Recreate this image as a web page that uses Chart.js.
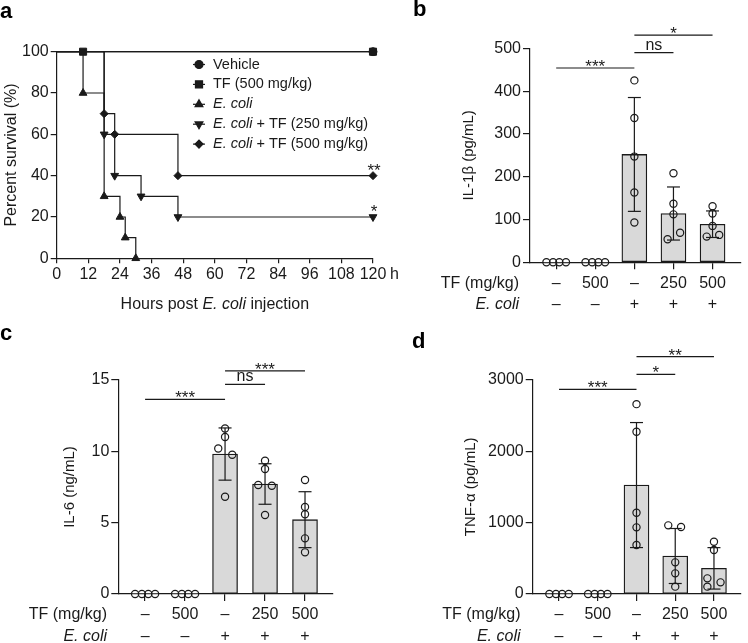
<!DOCTYPE html>
<html>
<head>
<meta charset="utf-8">
<script src="https://cdn.jsdelivr.net/npm/chart.js@4.4.1/dist/chart.umd.min.js"></script>
<style>
  body { margin: 0; background: #fff; }
  #fig { position: relative; width: 748px; height: 643px; overflow: hidden; }
  .panel { position: absolute; }
  .letter { position: absolute; font: bold 22px "Liberation Sans", Arial, sans-serif; line-height: 22px; color: #000; }
</style>
</head>
<body>
<div id="fig">
  <div class="panel" style="left:374px;top:0"><canvas id="chartB" width="374" height="320"></canvas></div>
  <div class="panel" style="left:0;top:320px"><canvas id="chartC" width="374" height="323"></canvas></div>
  <div class="panel" style="left:374px;top:320px"><canvas id="chartD" width="374" height="323"></canvas></div>
  <div class="panel" style="left:0;top:0"><canvas id="chartA" width="410" height="320"></canvas></div>
  <div class="letter" style="left:0;top:0">a</div>
  <div class="letter" style="left:413px;top:-2px">b</div>
  <div class="letter" style="left:0;top:322px">c</div>
  <div class="letter" style="left:412px;top:330px">d</div>
</div>
<script>
// ---- panel a: survival ----
const hourTicks = [0, 12, 24, 36, 48, 60, 72, 84, 96, 108, 120];
const survVehicle = [[0, 100], [120, 100]];
const survTF = [[0, 100], [10, 100], [120, 100]];
const survEcoli = [[0, 100], [10, 80], [18, 30], [24, 20], [26, 10], [30, 0]];
const survTF250 = [[0, 100], [18, 60], [22, 40], [32, 30], [46, 20], [120, 20]];
const survTF500 = [[0, 100], [18, 70], [22, 60], [46, 40], [120, 40]];
const survStars = [['**', 40], ['*', 20]];
const legendLabels = [
  [['Vehicle', false]],
  [['TF (500 mg/kg)', false]],
  [['E. coli', true]],
  [['E. coli', true], [' + TF (250 mg/kg)', false]],
  [['E. coli', true], [' + TF (500 mg/kg)', false]]
];

// ---- panels b-d: cytokines ----
const groups = [0, 1, 2, 3, 4];
const tfDose = ['–', '500', '–', '250', '500'];
const ecoli = ['–', '–', '+', '+', '+'];
const zeroJitter = [-0.25, -0.08, 0.08, 0.25];

const il1bMean = [0, 0, 252, 114, 89];
const il1bSD = [0, 0, 133, 62, 31];
const il1bPoints = [[0, 0, 0, 0], [0, 0, 0, 0], [425, 337, 247, 163, 93], [208, 137, 112, 69, 54], [131, 114, 85, 60, 64]];
const il1bJitter = [zeroJitter, zeroJitter, [0, 0, 0, 0, 0], [0, 0, 0, 0.17, -0.15], [0, 0, 0, -0.15, 0.17]];
const il1bSig = [[0, 2, 454, '***'], [2, 3, 490, 'ns'], [2, 4, 531, '*']];

const il6Mean = [0, 0, 9.81, 7.71, 5.21];
const il6SD = [0, 0, 1.83, 1.42, 1.96];
const il6Points = [[0, 0, 0, 0], [0, 0, 0, 0], [11.6, 11.0, 10.2, 9.76, 6.82], [9.34, 8.76, 7.64, 7.59, 5.54], [7.99, 6.1, 5.59, 3.9, 2.92]];
const il6Jitter = [zeroJitter, zeroJitter, [0, 0, -0.17, 0.18, 0], [0, 0, -0.17, 0.17, 0], [0, 0, 0, 0, 0]];
const il6Sig = [[0, 2, 13.64, '***'], [2, 3, 14.7, 'ns'], [2, 4, 15.64, '***']];

const tnfMean = [0, 0, 1525, 532, 359];
const tnfSD = [0, 0, 875, 385, 290];
const tnfPoints = [[0, 0, 0, 0], [0, 0, 0, 0], [2658, 2271, 1138, 933, 686], [961, 937, 443, 289, 103], [732, 616, 219, 163, 103]];
const tnfJitter = [zeroJitter, zeroJitter, [0, 0, 0, 0, 0], [-0.18, 0.15, 0, 0, 0], [0, 0, -0.17, 0.17, -0.17]];
const tnfSig = [[0, 2, 2864, '***'], [2, 3, 3074, '*'], [2, 4, 3323, '**']];

const family = '"Liberation Sans", Arial, sans-serif';
const ink = '#1a1a1a';

function font(size, italic) {
  return (italic ? 'italic ' : '') + size + 'px ' + family;
}

// draws a run of text pieces, some of them italic
function drawRich(ctx, parts, x, y, align, size) {
  let total = 0;
  parts.forEach(p => { ctx.font = font(size, p[1]); total += ctx.measureText(p[0]).width; });
  let cx = align === 'center' ? x - total / 2 : (align === 'right' ? x - total : x);
  ctx.textAlign = 'left';
  parts.forEach(p => {
    ctx.font = font(size, p[1]);
    ctx.fillText(p[0], cx, y);
    cx += ctx.measureText(p[0]).width;
  });
}

// prism-like axis: outside ticks, no grid, no bar offset
function axisStyle(tickLen) {
  return {
    offset: false,
    grid: { display: true, drawOnChartArea: false, drawTicks: true, tickLength: tickLen, color: ink, lineWidth: 1.2, offset: false },
    border: { display: true, color: ink, width: 1.2 }
  };
}

const markerSizes = [4, 5, 4.5, 4.5, 4];
const toXY = arr => arr.map(p => ({ x: p[0], y: p[1] }));
function survSet(label, data, style, size, rot) {
  return {
    label: label, data: toXY(data), stepped: true, borderColor: ink, borderWidth: 1.2,
    pointStyle: style, pointRotation: rot || 0,
    pointRadius: c => c.dataIndex === 0 ? 0 : size,
    pointBackgroundColor: ink, pointBorderColor: ink, pointBorderWidth: 1, clip: false
  };
}

const areaA = { left: 56.7, top: 51.7, right: 373, bottom: 258.3, w: 410, h: 320 };
new Chart(document.getElementById('chartA'), {
  type: 'line',
  data: {
    datasets: [
      survSet('Vehicle', survVehicle, 'circle', markerSizes[0]),
      survSet('TF', survTF, 'rect', markerSizes[1]),
      survSet('E. coli', survEcoli, 'triangle', markerSizes[2]),
      survSet('E. coli + TF 250', survTF250, 'triangle', markerSizes[3], 180),
      survSet('E. coli + TF 500', survTF500, 'rectRot', markerSizes[4])
    ]
  },
  options: {
    responsive: false, animation: false, events: [],
    layout: { padding: { left: 0, top: areaA.top, right: areaA.w - areaA.right, bottom: 0 } },
    plugins: { legend: { display: false }, tooltip: { enabled: false } },
    scales: {
      x: Object.assign({
        type: 'linear', min: 0, max: 120,
        afterBuildTicks: ax => { ax.ticks = hourTicks.map(v => ({ value: v })); },
        afterFit: ax => { ax.height = areaA.h - areaA.bottom; },
        ticks: { color: ink, font: { size: 16, family: family }, padding: 2, maxRotation: 0, autoSkip: false }
      }, axisStyle(5)),
      y: Object.assign({
        min: 0, max: 100,
        afterFit: ax => { ax.width = areaA.left; },
        ticks: { stepSize: 20, color: ink, font: { size: 16, family: family }, padding: 2 }
      }, axisStyle(6))
    }
  },
  plugins: [{
    id: 'panelA',
    afterDraw(chart) {
      const ctx = chart.ctx, ca = chart.chartArea;
      const xs = chart.scales.x, ys = chart.scales.y;
      ctx.save();
      ctx.fillStyle = ink;
      ctx.textBaseline = 'middle';
      drawRich(ctx, [['Hours post ', false], ['E. coli', true], [' injection', false]], (ca.left + ca.right) / 2, 305, 'center', 16);
      ctx.font = font(16);
      ctx.textAlign = 'left';
      ctx.fillText('h', xs.getPixelForValue(120) + 17, 275);
      ctx.save();
      ctx.translate(12, (ca.top + ca.bottom) / 2);
      ctx.rotate(-Math.PI / 2);
      ctx.textAlign = 'center';
      ctx.fillText('Percent survival (%)', 0, 0);
      ctx.restore();
      // significance marks at the end of the curves
      ctx.textBaseline = 'alphabetic';
      ctx.textAlign = 'center';
      ctx.font = font(17);
      survStars.forEach(s => ctx.fillText(s[0], xs.getPixelForValue(120) + 1, ys.getPixelForValue(s[1])));
      // legend
      chart.data.datasets.forEach((ds, i) => {
        const y = 64.5 + i * 19.9;
        ctx.strokeStyle = ink; ctx.lineWidth = 1.2;
        ctx.beginPath(); ctx.moveTo(193, y); ctx.lineTo(205, y); ctx.stroke();
        ctx.fillStyle = ink;
        Chart.helpers.drawPoint(ctx, { pointStyle: ds.pointStyle, rotation: ds.pointRotation, radius: markerSizes[i], borderWidth: 1 }, 199, y);
        ctx.textBaseline = 'middle';
        drawRich(ctx, legendLabels[i], 213, y, 'left', 14.5);
      });
      ctx.restore();
    }
  }]
});

function barPanel(id, o) {
  const A = o.area;
  const bars = groups.map((g, i) => ({ x: g, y: o.means[i] }));
  const errs = [];
  groups.forEach((g, i) => {
    if (o.sds[i] > 0) errs.push({ x: g, y: o.means[i] - o.sds[i] }, { x: g, y: o.means[i] + o.sds[i] }, { x: g + 0.5, y: null });
  });
  const dots = [];
  o.points.forEach((vals, i) => vals.forEach((v, j) => dots.push({ x: groups[i] + o.jitter[i][j], y: v })));

  return new Chart(document.getElementById(id), {
    data: {
      datasets: [
        { type: 'bar', data: bars, order: 3, backgroundColor: '#d9d9d9', borderColor: ink,
          borderWidth: c => (c.raw && c.raw.y > 0 ? 1.3 : 0), borderSkipped: false, barThickness: 25 },
        { type: 'line', data: errs, order: 2, borderColor: ink, borderWidth: 1.2, spanGaps: false,
          pointStyle: 'line', pointRadius: 6.5, pointBorderWidth: 1.2, pointBorderColor: ink, clip: false },
        { type: 'scatter', data: dots, order: 1, pointStyle: 'circle', pointRadius: 3.6, pointBorderWidth: 1.2,
          pointBorderColor: ink, pointBackgroundColor: 'rgba(0,0,0,0)', clip: false }
      ]
    },
    options: {
      responsive: false, animation: false, events: [],
      layout: { padding: { left: 0, top: A.top, right: A.w - A.right, bottom: 0 } },
      plugins: { legend: { display: false }, tooltip: { enabled: false } },
      scales: {
        x: Object.assign({
          type: 'linear', min: o.xMin, max: o.xMax,
          afterBuildTicks: ax => { ax.ticks = groups.map(v => ({ value: v })); },
          afterFit: ax => { ax.height = A.h - A.bottom; },
          ticks: { callback: v => [tfDose[Math.round(v)], ecoli[Math.round(v)]], color: ink,
                   font: { size: 16, family: family, lineHeight: 1.36 }, padding: 3, maxRotation: 0, autoSkip: false }
        }, axisStyle(7)),
        y: Object.assign({
          min: 0, max: o.yMax,
          afterFit: ax => { ax.width = A.left; },
          ticks: { stepSize: o.yStep, callback: v => String(v), color: ink, font: { size: 16, family: family }, padding: 2 }
        }, axisStyle(7))
      }
    },
    plugins: [{
      id: 'barText',
      afterDraw(chart) {
        const ctx = chart.ctx, ca = chart.chartArea;
        const xs = chart.scales.x, ys = chart.scales.y;
        ctx.save();
        ctx.fillStyle = ink;
        ctx.textBaseline = 'middle';
        // y title
        ctx.save();
        ctx.translate(o.titleX, (ca.top + ca.bottom) / 2);
        ctx.rotate(-Math.PI / 2);
        ctx.textAlign = 'center';
        ctx.font = font(15);
        ctx.fillText(o.yTitle, 0, 0);
        ctx.restore();
        // row headers
        drawRich(ctx, [['TF (mg/kg)', false]], o.rowX, ca.bottom + 21, 'right', 16);
        drawRich(ctx, [['E. coli', true]], o.rowX, ca.bottom + 42.7, 'right', 16);
        // significance brackets
        ctx.strokeStyle = ink; ctx.lineWidth = 1.2;
        ctx.textAlign = 'center';
        ctx.textBaseline = 'alphabetic';
        o.sig.forEach(s => {
          const x1 = xs.getPixelForValue(s[0]), x2 = xs.getPixelForValue(s[1]);
          const y = ys.getPixelForValue(s[2]);
          ctx.beginPath(); ctx.moveTo(x1, y); ctx.lineTo(x2, y); ctx.stroke();
          if (s[3] === 'ns') { ctx.font = font(16); ctx.fillText(s[3], (x1 + x2) / 2, y - 3); }
          else { ctx.font = font(17); ctx.fillText(s[3], (x1 + x2) / 2, y + 4); }
        });
        ctx.restore();
      }
    }]
  });
}

barPanel('chartB', {
  means: il1bMean, sds: il1bSD, points: il1bPoints, jitter: il1bJitter, sig: il1bSig,
  yMax: 500, yStep: 100, yTitle: 'IL-1β (pg/mL)', titleX: 95, rowX: 145, xMin: -0.67, xMax: 4.71,
  area: { left: 156, top: 48.3, right: 371, bottom: 262.3, w: 374, h: 320 }
});
barPanel('chartC', {
  means: il6Mean, sds: il6SD, points: il6Points, jitter: il6Jitter, sig: il6Sig,
  yMax: 15, yStep: 5, yTitle: 'IL-6 (ng/mL)', titleX: 70, rowX: 107, xMin: -0.67, xMax: 4.7,
  area: { left: 118.3, top: 60, right: 333, bottom: 274, w: 374, h: 323 }
});
barPanel('chartD', {
  means: tnfMean, sds: tnfSD, points: tnfPoints, jitter: tnfJitter, sig: tnfSig,
  yMax: 3000, yStep: 1000, yTitle: 'TNF-α (pg/mL)', titleX: 97, rowX: 146.5, xMin: -0.68, xMax: 4.68,
  area: { left: 158.7, top: 59.7, right: 373, bottom: 274, w: 374, h: 323 }
});
</script>
</body>
</html>
